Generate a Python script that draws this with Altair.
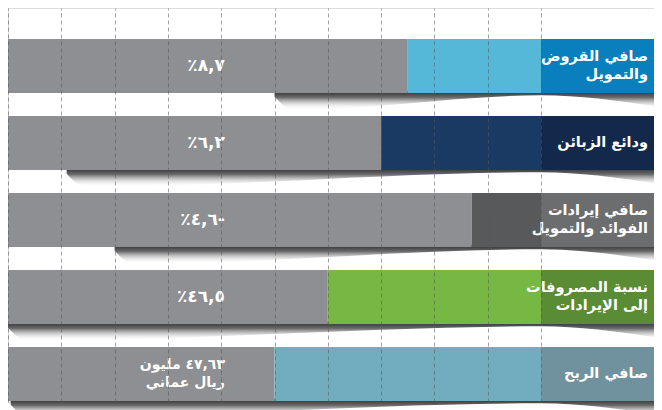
import altair as alt
import pandas as pd

# ---- data ----
rows = [0, 1, 2, 3, 4]
categories = [
    "صافي القروض\nوالتمويل",
    "ودائع الزبائن",
    "صافي إيرادات\nالفوائد والتمويل",
    "نسبة المصروفات\nإلى الإيرادات",
    "صافي الربح",
]
value_labels = ["٪٨,٧", "٪٦,٢", "٪٤,٦-", "٪٤٦,٥", "٤٧,٦٣ مليون\nريال عماني"]
gray_ends = [7.5, 7.0, 8.7, 6.0, 5.0]
shadow_starts = [5.0, 1.1, 2.0, 0.0, 0.05]
grid_values = [0, 1, 2, 3, 4, 5, 6, 7, 8, 9, 10]

# ---- style ----
bar_colors = ["#56b8d9", "#1a3a63", "#58595b", "#76b843", "#72adbf"]
box_colors = ["#0a7fbd", "#13294b", "#6c6d6f", "#5a8b35", "#6f929e"]
GRAY = "#8e8f92"
GRID_END = 10
X_END = 12.12
LABEL_X = 4.07
W, H = 646, 394
HALF = 0.35
LINE_STEP = 0.24
FONT = "DejaVu Sans"

df = pd.DataFrame({
    "row": rows,
    "rowb": [f"b{r}" for r in rows],
    "gray_end": gray_ends,
    "grid_end": [GRID_END] * 5,
    "x_end": [X_END] * 5,
})
df["y0"] = df["row"] - HALF
df["y1"] = df["row"] + HALF


def split_lines(texts, xpos, kind):
    out = []
    for r, t in zip(rows, texts):
        parts = t.split("\n")
        n = len(parts)
        for k, p in enumerate(parts):
            out.append({"row": r, "kind": kind, "x": xpos, "n": n,
                        "y": r + (k - (n - 1) / 2) * LINE_STEP, "t": p})
    return out


cat_df = pd.DataFrame(split_lines(categories, X_END, "cat"))
val_df = pd.DataFrame(split_lines(value_labels, LABEL_X, "val"))

# shadow polygons (start from data, depth is style)
sh = []
for r, s in zip(rows, shadow_starts):
    for xv, d in [(s, 0.05), (s + 0.35, 0.22), (GRID_END, 0.03), (X_END, 0.17)]:
        sh.append({"row": r, "x": xv, "y": r + HALF - 0.03, "y2": r + HALF + d})
shdf = pd.DataFrame(sh)

xscale = alt.Scale(domain=[0, X_END], nice=False, zero=False)
yscale = alt.Scale(domain=[-0.7532, 4.3636], nice=False, zero=False, reverse=True)
rowcolor_bar = alt.Color("row:N", scale=alt.Scale(domain=rows, range=bar_colors), legend=None)
rowcolor_box = alt.Fill("rowb:N", scale=alt.Scale(domain=[f"b{r}" for r in rows], range=box_colors), legend=None)

xax = alt.Axis(values=grid_values, labels=False, ticks=False, domain=False, title=None,
               grid=True, gridDash=[4, 3], gridColor="#555555", gridOpacity=0.55,
               gridWidth=1, zindex=1)

base = alt.Chart(df)

shadow = alt.Chart(shdf).mark_area(
    interpolate="monotone",
    color=alt.Gradient(
        gradient="linear", x1=0, y1=0, x2=0, y2=1,
        stops=[alt.GradientStop(color="#2a2a2a", offset=0),
               alt.GradientStop(color="#6a6a6a", offset=0.35),
               alt.GradientStop(color="rgba(255,255,255,0)", offset=1)],
    ),
).encode(
    x=alt.X("x:Q", scale=xscale, axis=xax),
    y=alt.Y("y:Q", scale=yscale, axis=None),
    y2="y2:Q",
    detail="row:N",
)

gray = base.mark_rect(color=GRAY).encode(
    x=alt.X("zero:Q", scale=xscale, axis=xax), x2="gray_end:Q",
    y=alt.Y("y0:Q", scale=yscale, axis=None), y2="y1:Q",
).transform_calculate(zero="0")

colored = base.mark_rect().encode(
    x=alt.X("gray_end:Q", scale=xscale, axis=xax), x2="grid_end:Q",
    y=alt.Y("y0:Q", scale=yscale, axis=None), y2="y1:Q",
    color=rowcolor_bar,
)

box = base.mark_rect(filled=True).encode(
    x=alt.X("grid_end:Q", scale=xscale, axis=xax), x2="x_end:Q",
    y=alt.Y("y0:Q", scale=yscale, axis=None), y2="y1:Q",
    fill=rowcolor_box,
)

cat_text = alt.Chart(cat_df).mark_text(
    align="right", baseline="middle", color="white", font=FONT,
    fontSize=14.5, fontWeight="bold", dx=-6,
).encode(
    x=alt.X("x:Q", scale=xscale, axis=xax),
    y=alt.Y("y:Q", scale=yscale, axis=None),
    text="t:N",
)

val_text = alt.Chart(val_df).transform_calculate(
    fs="datum.row == 4 ? 14 : 17"
).mark_text(
    align="right", baseline="middle", color="white", font=FONT, fontWeight="bold",
).encode(
    x=alt.X("x:Q", scale=xscale, axis=xax),
    y=alt.Y("y:Q", scale=yscale, axis=None),
    size=alt.Size("fs:Q", scale=None, legend=None),
    text="t:N",
)

chart = alt.layer(shadow, gray, colored, box, cat_text, val_text).resolve_scale(
    color="independent", fill="independent"
).properties(
    width=W, height=H, padding=0
).configure_view(stroke=None).configure(background="white")

chart.save("out.html", embed_options={"renderer": "svg", "actions": False})
